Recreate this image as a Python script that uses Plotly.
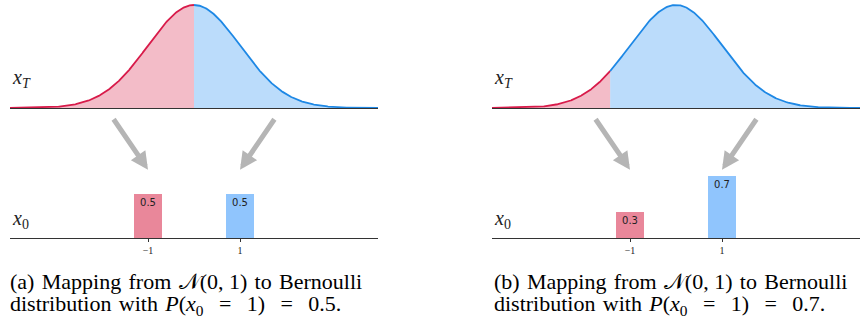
import numpy as np
import plotly.graph_objects as go

# ---- data ----
mean = 0.0
std = 1.0
x_min, x_max = -4.0, 4.0
split_a = 0.0      # boundary between red / blue areas, panel (a)
split_b = -1.43    # boundary between red / blue areas, panel (b)

bar_x = [-1, 1]
bar_a = [0.5, 0.5]
bar_b = [0.3, 0.7]
tick_vals = [-1, 1]
tick_text = ["\u22121", "1"]

SP = "\u2004"          # slightly widened (justified-looking) word space
EQ = "\u2002\u2009"     # math spacing around '='
caption_lines = [
    [f"(a){SP}Mapping{SP}from{SP}𝒩(0, 1){SP}to{SP}Bernoulli",
     f"distribution{SP}with{SP}<i>P</i>(<i>x</i><sub>0</sub>{EQ}={EQ}1){EQ}={EQ}0.5."],
    [f"(b){SP}Mapping{SP}from{SP}𝒩(0, 1){SP}to{SP}Bernoulli",
     f"distribution{SP}with{SP}<i>P</i>(<i>x</i><sub>0</sub>{EQ}={EQ}1){EQ}={EQ}0.7."],
]

# ---- styles ----
RED_LINE = "#d81b4a"
BLUE_LINE = "#1e88e5"
RED_FILL = "rgba(232,121,146,0.5)"
BLUE_FILL = "rgba(120,186,247,0.5)"
RED_BAR = "#e9879a"
BLUE_BAR = "#90c5fd"
ARROW = "#b5b5b5"
AXIS = "#333333"

W, H = 863, 320


def pdf(x):
    return np.exp(-0.5 * ((x - mean) / std) ** 2) / (std * np.sqrt(2 * np.pi))


peak = pdf(mean)

fig = go.Figure()

panels = [
    dict(split=split_a, bars=bar_a, xc="x", yc="y", xb="x2", yb="y2", x0=10, x1=378),
    dict(split=split_b, bars=bar_b, xc="x3", yc="y3", xb="x4", yb="y4", x0=492, x1=860),
]

for p in panels:
    xs_r = np.linspace(x_min, p["split"], 300)
    xs_b = np.linspace(p["split"], x_max, 300)
    fig.add_trace(go.Scatter(x=xs_r, y=pdf(xs_r), mode="lines", fill="tozeroy",
                             fillcolor=RED_FILL, line=dict(color=RED_LINE, width=1.8),
                             xaxis=p["xc"], yaxis=p["yc"], hoverinfo="skip"))
    fig.add_trace(go.Scatter(x=xs_b, y=pdf(xs_b), mode="lines", fill="tozeroy",
                             fillcolor=BLUE_FILL, line=dict(color=BLUE_LINE, width=1.8),
                             xaxis=p["xc"], yaxis=p["yc"], hoverinfo="skip"))
    fig.add_trace(go.Bar(x=bar_x, y=p["bars"], width=0.6,
                         marker=dict(color=[RED_BAR, BLUE_BAR], line=dict(width=0)),
                         text=[f"{v:.1f}" for v in p["bars"]], textposition="inside",
                         insidetextanchor="end",
                         textfont=dict(family="DejaVu Sans", size=10, color="#222222"),
                         xaxis=p["xb"], yaxis=p["yb"], hoverinfo="skip"))
    # arrows from the curve to the bars
    for sgn in (-1, 1):
        fig.add_annotation(x=sgn * 1.0, y=0.78, ax=sgn * 1.77, ay=1.37,
                           xref=p["xb"], yref=p["yb"], axref=p["xb"], ayref=p["yb"],
                           showarrow=True, arrowhead=2, arrowsize=0.7, arrowwidth=5,
                           arrowcolor=ARROW, text="")

# axes layout
curve_bottom, curve_top = 108, 3
bar_bottom = 238.3
px_per_unit = 88.0
y_curve_top = peak * (curve_bottom - curve_top) / (curve_bottom - 5)

layout = dict(
    width=W, height=H, margin=dict(l=0, r=0, t=0, b=0),
    paper_bgcolor="white", plot_bgcolor="white", showlegend=False, bargap=0,
)
for p in panels:
    dom = [p["x0"] / W, p["x1"] / W]
    for key, kind in ((p["xc"], "c"), (p["xb"], "b")):
        name = "xaxis" + key[1:]
        ax = dict(domain=dom, range=[x_min, x_max], showgrid=False, zeroline=False,
                  showline=True, linecolor=AXIS, linewidth=1.3, fixedrange=True,
                  anchor="y" + key[1:])
        if kind == "c":
            ax.update(showticklabels=False, ticks="")
        else:
            ax.update(tickmode="array", tickvals=tick_vals, ticktext=tick_text,
                      ticks="outside", ticklen=3, tickwidth=1, tickcolor=AXIS,
                      tickfont=dict(family="Liberation Serif", size=10, color="#222"))
        layout[name] = ax
    layout["yaxis" + p["yc"][1:]] = dict(
        domain=[1 - curve_bottom / H, 1 - curve_top / H], range=[0, y_curve_top],
        visible=False, fixedrange=True, anchor=p["xc"])
    layout["yaxis" + p["yb"][1:]] = dict(
        domain=[1 - bar_bottom / H, 1 - (bar_bottom - px_per_unit) / H], range=[0, 1],
        visible=False, fixedrange=True, anchor=p["xb"])

fig.update_layout(**layout)

# variable labels
for p in panels:
    fig.add_annotation(x=p["x0"] / W, y=1 - 79 / H, xref="paper", yref="paper",
                       xanchor="left", yanchor="middle", showarrow=False,
                       text="<i>x</i><sub><i>T</i></sub>",
                       font=dict(family="Liberation Serif", size=20, color="#222"))
    fig.add_annotation(x=p["x0"] / W, y=1 - 219 / H, xref="paper", yref="paper",
                       xanchor="left", yanchor="middle", showarrow=False,
                       text="<i>x</i><sub>0</sub>",
                       font=dict(family="Liberation Serif", size=20, color="#222"))

# captions
for lines, x0 in zip(caption_lines, (8, 492)):
    for line, yc in zip(lines, (281, 305)):
        fig.add_annotation(x=x0 / W, y=1 - yc / H, xref="paper", yref="paper",
                           xanchor="left", yanchor="middle", align="left",
                           showarrow=False, text=line,
                           font=dict(family="Liberation Serif", size=22, color="#000"))

fig.write_html("out.html", config={"displayModeBar": False},
               post_script="document.body.style.margin='0';")
